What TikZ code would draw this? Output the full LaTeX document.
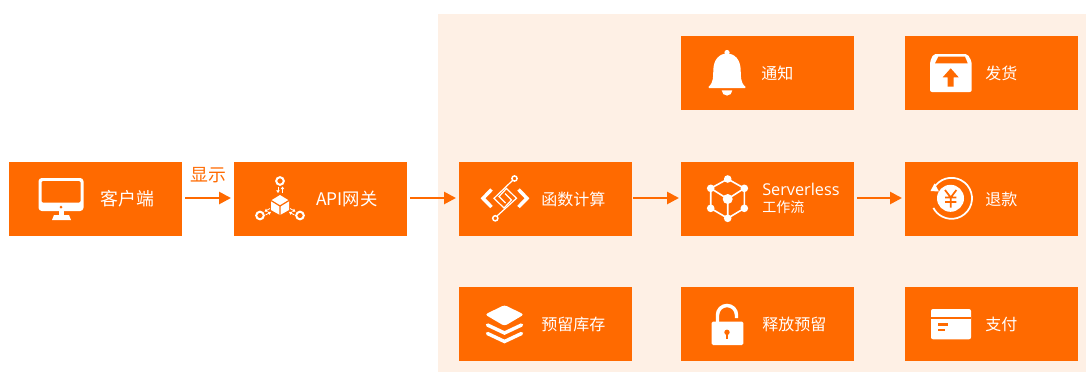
\documentclass[tikz,border=0pt]{standalone}
\usepackage{fontspec}
\setmainfont{Noto Sans CJK SC}
\newfontfamily\latinfont{Open Sans}
\usetikzlibrary{arrows.meta}
\definecolor{aliorange}{HTML}{FF6A00}
\definecolor{panelbg}{HTML}{FEF0E5}
\tikzset{
  box/.style={fill=aliorange,minimum width=129.75pt,minimum height=55.5pt,inner sep=0pt,outer sep=0pt},
  boxtext/.style={text=white,anchor=west,font=\fontsize{12}{14}\selectfont,inner sep=0pt},
  bigtext/.style={boxtext,font=\fontsize{13.4}{15}\selectfont},
  flow/.style={aliorange,line width=2pt,-{Triangle[length=9pt,width=9pt]}},
  icon/.style={fill=white,draw=none},
  iconline/.style={draw=white,line width=1.5pt},
  iconcut/.style={draw=aliorange,line width=.9pt},
  tinyarrow/.style={white,line width=.6pt,-{Triangle[length=2pt,width=2.6pt]}}
}
\begin{document}
\begin{tikzpicture}[x=0.75pt,y=-0.75pt]
\useasboundingbox (0,0) rectangle (1086,372);
\fill[panelbg] (438,14) rectangle (1086,372);
%---------------------------------------------------
\node[box] (client) at (95.5,199) {};
\node[box] (gateway) at (320.5,199) {};
\node[box] (fc) at (545.5,199) {};
\node[box] (flowbox) at (767.5,199) {};
\node[box] (refund) at (991.5,199) {};
\node[box] (notify) at (767.5,73) {};
\node[box] (ship) at (991.5,73) {};
\node[box] (reserve) at (545.5,324) {};
\node[box] (release) at (767.5,324) {};
\node[box] (pay) at (991.5,324) {};
%---------------------------------------------------
\node[bigtext] (clientlabel) at (100,198.5) {客户端};
\node[boxtext,font=\fontsize{13}{15}\selectfont] (gatewaylabel) at (316,198.5) {API网关};
\node[boxtext] (fclabel) at (541,199) {函数计算};
\node[boxtext,align=left,font=\fontsize{10.5}{13}\selectfont] (flowlabel) at (762,198.5) {{\latinfont\fontsize{12.2}{13}\selectfont Serverless}\\工作流};
\node[boxtext] (refundlabel) at (985,199) {退款};
\node[boxtext] (notifylabel) at (761,73) {通知};
\node[boxtext] (shiplabel) at (985,73) {发货};
\node[boxtext] (reservelabel) at (541,324) {预留库存};
\node[boxtext] (releaselabel) at (762,324) {释放预留};
\node[boxtext] (paylabel) at (985,324) {支付};
%---------------------------------------------------
\coordinate (a1) at (185,198);
\coordinate (a2) at (231,198);
\coordinate (b1) at (410,198);
\coordinate (b2) at (456,198);
\coordinate (c1) at (633,198);
\coordinate (c2) at (679,198);
\coordinate (d1) at (857,198);
\coordinate (d2) at (902,198);
\draw[flow] (a1) -- (a2);
\draw[flow] (b1) -- (b2);
\draw[flow] (c1) -- (c2);
\draw[flow] (d1) -- (d2);
\node[text=aliorange,font=\fontsize{13.4}{15}\selectfont,inner sep=0pt] (showlabel) at (208.5,175) {显示};
%--------------------------------------------------- monitor
\fill[icon,rounded corners=2.5pt] (38.5,178) rectangle (83.5,211);
\fill[aliorange,rounded corners=1pt] (41.5,181) rectangle (80.5,202.5);
\fill[aliorange] (61,207) circle (1.5);
\fill[icon] (59,211) rectangle (63.5,216);
\fill[icon] (54,215) -- (69,215) -- (71,220) -- (52,220) -- cycle;
%--------------------------------------------------- cube
\fill[icon] (280,195) -- (289,200.5) -- (289,210) -- (280,215) -- (271,210) -- (271,200.5) -- cycle;
\draw[iconcut] (271,200.5) -- (280,206) -- (289,200.5) (280,206) -- (280,215);
\draw[iconline] (280,181) circle (3.8);
\draw[iconline] (260,215.5) circle (3.8);
\draw[iconline] (300,215.5) circle (3.8);
\draw[tinyarrow] (278,186.5) -- (278,193);
\draw[tinyarrow] (282.5,193) -- (282.5,186.5);
\draw[tinyarrow] (270,208.5) -- (264.5,211.5);
\draw[tinyarrow] (265.5,215) -- (271,212);
\draw[tinyarrow] (290,208.5) -- (295.5,211.5);
\draw[tinyarrow] (294.5,215) -- (289,212);
%--------------------------------------------------- code
\draw[white,line width=2.6pt] (491.5,189.5) -- (483,198.3) -- (491.5,207);
\draw[white,line width=2.6pt] (518.5,189.5) -- (527,198.3) -- (518.5,207);
\draw[iconline,line width=.9pt] (512.5,180.5) -- (494,198.3) -- (504,208) -- (511.5,200) -- (505,193.5);
\draw[iconline,line width=.9pt] (497,216) -- (516.5,198.3) -- (506.5,188.5) -- (499,196.5) -- (505.5,203);
\draw[iconline,line width=1.1pt] (514.5,178.5) circle (2.6);
\draw[iconline,line width=1.1pt] (495.3,218.3) circle (2.6);
%--------------------------------------------------- hexagon
\draw[iconline,line width=1.2pt] (727.7,179) -- (744.3,188.3) -- (744.3,208.3) -- (727.7,218.3) -- (710.7,208.3) -- (710.7,188.3) -- cycle;
\draw[iconline,line width=1.2pt] (727.7,199) -- (727.7,218.3) (727.7,199) -- (744.3,188.3) (727.7,199) -- (710.7,188.3);
\foreach \px/\py in {727.7/179,744.3/188.3,744.3/208.3,727.7/218.3,710.7/208.3,710.7/188.3}
  \fill[icon] (\px,\py) circle (3.8);
\fill[icon] (727.7,199) circle (5);
%--------------------------------------------------- yuan
\fill[icon] (950.5,198.3) circle (13.5);
\draw[aliorange,line width=1.3pt] (945,190) -- (950.7,197.5) -- (956.4,190) (950.7,197.5) -- (950.7,207.5) (945,197.5) -- (956.4,197.5) (945,202) -- (956.4,202);
\draw[iconline,line width=1.3pt] (933.4,188.7) arc (208:512:20.5);
\fill[icon] (934.5,183.5) -- (930.5,191) -- (939,191.5) -- cycle;
%--------------------------------------------------- bell
\fill[icon] (727,52.5) circle (2.6);
\fill[icon] (708.5,87) .. controls (714,82) and (713,76) .. (713.3,70) .. controls (713.5,60) and (719,53.5) .. (727,53.5) .. controls (735,53.5) and (740.5,60) .. (740.7,70) .. controls (741,76) and (740,82) .. (745.5,87) -- (745,88) -- (709,88) -- cycle;
\fill[icon] (721.7,90.3) arc (180:0:5.3) -- cycle;
%--------------------------------------------------- parcel
\fill[icon,rounded corners=1.5pt] (930,92) -- (930,61.5) -- (933.5,54) -- (967.5,54) -- (971.7,61.5) -- (971.7,92) -- cycle;
\fill[aliorange] (935,63.3) -- (938.3,56.7) -- (965,56.7) -- (967.7,63.3) -- cycle;
\fill[aliorange] (950.7,68.3) -- (958.7,77.3) -- (953.7,77.3) -- (953.7,86.7) -- (947.7,86.7) -- (947.7,77.3) -- (942.7,77.3) -- cycle;
%--------------------------------------------------- layers
\fill[icon,rounded corners=2pt] (504.5,305) -- (524,314.5) -- (504.5,326) -- (485,314.5) -- cycle;
\draw[iconline,line width=2.6pt,line cap=round] (487.5,325) -- (504.5,333) -- (521.5,325);
\draw[iconline,line width=2.6pt,line cap=round] (487.5,333.5) -- (504.5,341.5) -- (521.5,333.5);
%--------------------------------------------------- lock
\fill[icon,rounded corners=1pt] (711.7,321.7) rectangle (743.3,345);
\draw[iconline,line width=2.6pt] (717.5,322) -- (717.5,315) arc (180:360:9.5) -- (736.5,318);
\fill[aliorange] (727,332.3) circle (2.7);
\fill[aliorange] (726,333) rectangle (728,339);
%--------------------------------------------------- card
\fill[icon,rounded corners=1.5pt] (931,309) rectangle (971,339.3);
\fill[aliorange] (931,316.7) rectangle (971,319);
\fill[aliorange] (937.7,323.3) rectangle (947.7,325.7);
\fill[aliorange] (937.7,328.5) rectangle (945,331);
\end{tikzpicture}
\end{document}
